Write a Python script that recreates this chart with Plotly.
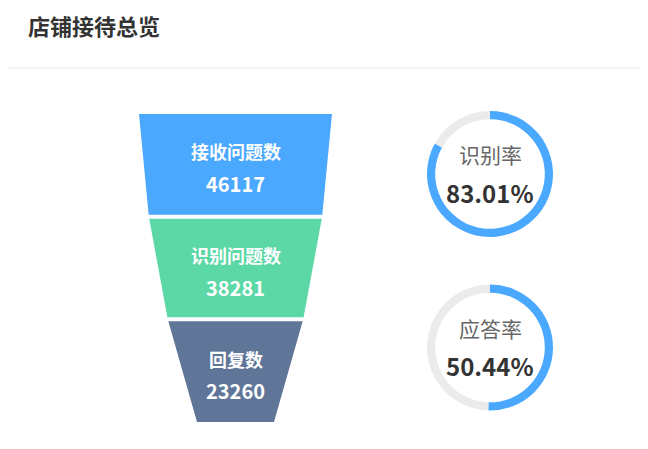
import plotly.graph_objects as go

# ---- data ----
title_text = "店铺接待总览"
funnel_labels = ["接收问题数", "识别问题数", "回复数"]
funnel_values = [46117, 38281, 23260]
funnel_colors = ["#4ba8ff", "#5cd8a6", "#5f7699"]
rate_labels = ["识别率", "应答率"]
rate_values = [83.01, 50.44]

# ---- layout constants (screen pixel space; page body has an 8px margin) ----
OFF = 8
SW, SH = 648, 449
W, H = SW - OFF, SH - OFF
FONT = "Noto Sans CJK SC"
cx = 235.5
top_y, bottom_y = 114, 422
gap = 4
max_w, min_w = 193, 77

fig = go.Figure()

vmax = max(funnel_values)
n = len(funnel_values)
step = (bottom_y - top_y) / n


def width_at(v):
    return min_w + (max_w - min_w) * v / vmax


bounds_w = [width_at(v) for v in funnel_values] + [width_at(0)]
for i, (lab, val, col) in enumerate(zip(funnel_labels, funnel_values, funnel_colors)):
    y0 = top_y + i * step
    y1 = y0 + step
    w0, w1 = bounds_w[i], bounds_w[i + 1]
    ya = y0 + (gap / 2 if i > 0 else 0)
    yb = y1 - (gap / 2 if i < n - 1 else 0)
    wa = w0 + (w1 - w0) * (ya - y0) / step
    wb = w0 + (w1 - w0) * (yb - y0) / step
    xs = [cx - wa / 2, cx + wa / 2, cx + wb / 2, cx - wb / 2, cx - wa / 2]
    ys = [ya, ya, yb, yb, ya]
    fig.add_trace(go.Scatter(x=xs, y=ys, fill="toself", fillcolor=col, mode="lines",
                             line=dict(width=0, color=col), hoverinfo="skip", showlegend=False))
    yc = (ya + yb) / 2
    fig.add_annotation(x=cx, y=yc - 13, text="<b>%s</b>" % lab, showarrow=False,
                       xref="x", yref="y", yanchor="middle",
                       font=dict(family=FONT, size=18, color="white"))
    fig.add_annotation(x=cx, y=yc + 19, text="<b>%d</b>" % val, showarrow=False,
                       xref="x", yref="y", yanchor="middle",
                       font=dict(family=FONT, size=20, color="white"))

# ---- donuts ----
donut_cx = 490
donut_cy = [174, 347.5]
R = 63
for lab, rate, cy in zip(rate_labels, rate_values, donut_cy):
    fig.add_trace(go.Pie(
        values=[rate, 100 - rate], sort=False, direction="clockwise", rotation=0,
        hole=0.87, marker=dict(colors=["#4aa8ff", "#ebebeb"], line=dict(width=0)),
        textinfo="none", hoverinfo="skip", showlegend=False,
        domain=dict(x=[(donut_cx - R - OFF) / W, (donut_cx + R - OFF) / W],
                    y=[(SH - (cy + R)) / H, (SH - (cy - R)) / H])))
    fig.add_annotation(x=donut_cx, y=cy - 20, text=lab, showarrow=False,
                       xref="x", yref="y", yanchor="middle",
                       font=dict(family=FONT, size=21, color="#666666"))
    fig.add_annotation(x=donut_cx, y=cy + 18, text="%.2f%%" % rate, showarrow=False,
                       xref="x", yref="y", yanchor="middle",
                       font=dict(family=FONT, size=24, color="#333333", weight=600))

# ---- title & separator ----
fig.add_annotation(x=27, y=24.5, text="<b>%s</b>" % title_text, showarrow=False,
                   xref="x", yref="y", xanchor="left", yanchor="middle", borderpad=0,
                   font=dict(family=FONT, size=22, color="#333333"))
fig.add_shape(type="line", x0=0, x1=SW, y0=68, y1=68, xref="x", yref="y",
              line=dict(color="#ececec", width=1))

fig.update_layout(
    width=W, height=H, margin=dict(l=0, r=0, t=0, b=0),
    paper_bgcolor="white", plot_bgcolor="white",
    xaxis=dict(range=[OFF, SW], visible=False, fixedrange=True),
    yaxis=dict(range=[SH, OFF], visible=False, fixedrange=True),
)

fig.write_html("out.html", config={"displayModeBar": False})
